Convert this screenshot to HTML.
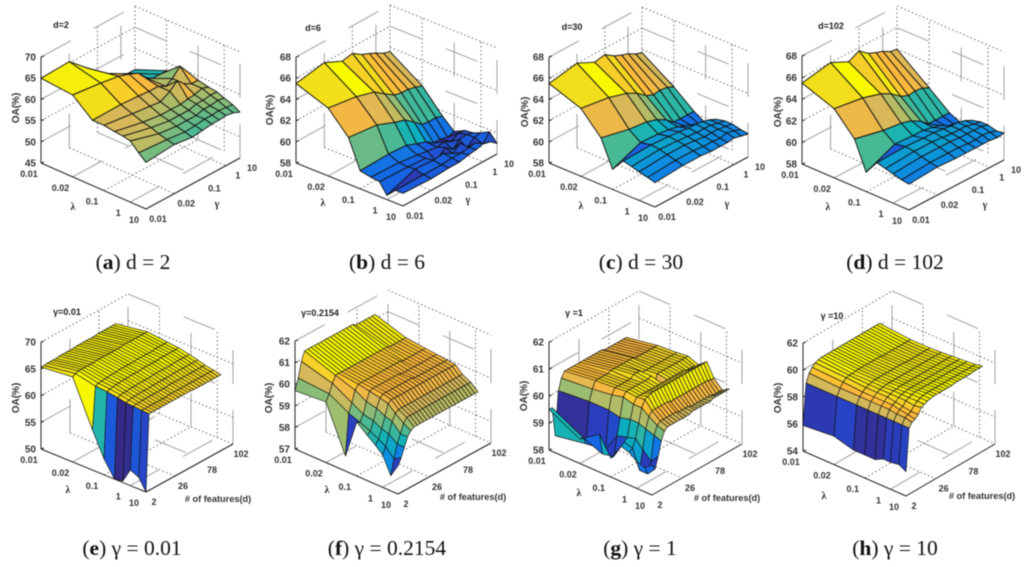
<!DOCTYPE html>
<html lang="en">
<head>
<meta charset="utf-8">
<title>OA surfaces</title>
<style>
html,body{margin:0;padding:0;background:#fff;width:1024px;height:567px;overflow:hidden}
svg{display:block;filter:blur(.45px)}
.t{font-family:"Liberation Sans",sans-serif;font-weight:bold;fill:#333}
.tick{font-size:9px;text-anchor:middle}
.zt{font-size:10px;text-anchor:end}
.oa{font-size:10px;text-anchor:middle}
.ttl{font-size:9px;text-anchor:middle;fill:#222}
.ax{font-size:10px;text-anchor:middle;fill:#222;font-family:"Liberation Serif",serif}
.feat{font-size:9.2px;text-anchor:middle}
.cap{font-family:"Liberation Serif",serif;font-size:21.5px;text-anchor:middle;fill:#111}
.cap tspan.b{font-weight:bold}
</style>
</head>
<body>
<svg id="fig" xmlns="http://www.w3.org/2000/svg" width="1024" height="567" viewBox="0 0 1024 567">
<g id="a"></g>
<g id="b"></g>
<g id="c"></g>
<g id="d"></g>
<g id="e"></g>
<g id="f"></g>
<g id="g"></g>
<g id="h"></g>

<g>
<text class="t ttl" x="61" y="28">d=2</text>
<text class="t ttl" x="313" y="31">d=6</text>
<text class="t ttl" x="572" y="30">d=30</text>
<text class="t ttl" x="831" y="29">d=102</text>
<text class="t ttl" x="67" y="315">γ=0.01</text>
<text class="t ttl" x="320" y="316">γ=0.2154</text>
<text class="t ttl" x="574" y="316">γ =1</text>
<text class="t ttl" x="832" y="319">γ =10</text>
</g>

<g>
<text class="t oa" transform="translate(19,108) rotate(-90)">OA(%)</text>
<text class="t oa" transform="translate(273,110) rotate(-90)">OA(%)</text>
<text class="t oa" transform="translate(528,112) rotate(-90)">OA(%)</text>
<text class="t oa" transform="translate(781,112) rotate(-90)">OA(%)</text>
<text class="t oa" transform="translate(19,398) rotate(-90)">OA(%)</text>
<text class="t oa" transform="translate(272,398) rotate(-90)">OA(%)</text>
<text class="t oa" transform="translate(527,396) rotate(-90)">OA(%)</text>
<text class="t oa" transform="translate(781,398) rotate(-90)">OA(%)</text>
</g>

<g>
<text class="ax" font-weight="bold" x="73" y="210">λ</text>
<text class="ax" font-weight="bold" x="323" y="206">λ</text>
<text class="ax" font-weight="bold" x="581" y="209">λ</text>
<text class="ax" font-weight="bold" x="828" y="210">λ</text>
<text class="ax" font-weight="bold" x="68" y="493">λ</text>
<text class="ax" font-weight="bold" x="327" y="493">λ</text>
<text class="ax" font-weight="bold" x="579" y="496">λ</text>
<text class="ax" font-weight="bold" x="824" y="499">λ</text>
<text class="ax" font-weight="bold" x="217" y="207">γ</text>
<text class="ax" font-weight="bold" x="468" y="203">γ</text>
<text class="ax" font-weight="bold" x="727" y="207">γ</text>
<text class="ax" font-weight="bold" x="985" y="208">γ</text>
<text class="t feat" x="218" y="502"># of features(d)</text>
<text class="t feat" x="473" y="500"># of features(d)</text>
<text class="t feat" x="727" y="501"># of features(d)</text>
<text class="t feat" x="982" y="499"># of features(d)</text>
</g>

<g>
<text class="cap" x="133" y="269">(<tspan class="b">a</tspan>) d = 2</text>
<text class="cap" x="387" y="269">(<tspan class="b">b</tspan>) d = 6</text>
<text class="cap" x="641" y="269">(<tspan class="b">c</tspan>) d = 30</text>
<text class="cap" x="895" y="269">(<tspan class="b">d</tspan>) d = 102</text>
<text class="cap" x="132" y="555">(<tspan class="b">e</tspan>) γ = 0.01</text>
<text class="cap" x="387" y="555">(<tspan class="b">f</tspan>) γ = 0.2154</text>
<text class="cap" x="640" y="555">(<tspan class="b">g</tspan>) γ = 1</text>
<text class="cap" x="895" y="555">(<tspan class="b">h</tspan>) γ = 10</text>
</g>
</svg>

<script>
// categories
const lambdaValues = [0.01,0.02,0.04,0.1,0.2,0.4,1,3,10];
const gammaValues = [0.01,0.02,0.04,0.1,0.2,0.4,1,3,10];
const dValues = [2,6,10,14,18,22,26,30,34,38,42,46,50,54,58,62,66,70,74,78,82,86,90,94,98,102];
// tick labels
const lambdaTicks = [0.01,0.02,0.1,1,10];
const gammaTicks = [0.01,0.02,0.1,1,10];
const dTicks = [2,26,78,102];
const zTicksA = [45,50,55,60,65,70];
const zTicksB = [58,60,62,64,66,68];
const zTicksE = [50,55,60,65,70];
const zTicksF = [57,58,59,60,61,62];
const zTicksG = [58,59,60,61,62];
const zTicksH = [54,56,58,60,62];
// OA values: rows = lambda, columns = gamma (a-d) or d (e-h)
const oaD2 = [
[65,65.3,61.5,59,57.5,56,55,55,55],
[64.3,63.5,62.8,62,61,59,58,58,58],
[60.4,60.5,60.2,60,60,59,60,62,60],
[60.4,59.5,59,58.7,60,61.5,60,59,59],
[60,58.6,58,58,58,58.3,58.5,59,58.5],
[59.8,58.2,57.5,57.5,57.5,58,58,58.3,58.2],
[59.4,57.5,57,57,57,57.5,57.5,57.8,57.5],
[57.5,57,56.5,56.7,57,57,57.2,57,56.8],
[56,56.6,56,56.3,56.6,56.6,56.8,56.5,55.8]];
const oaD6 = [
[65.5,66,65.2,65.4,64.8,64.5,64.2,63.8,63.6],
[64.4,64,63.5,62.8,62.2,62,62,61.8,61.6],
[62.4,62.1,61.4,61.1,60.4,59.8,59.7,59.7,59.5],
[59.7,59.8,59.7,59.3,59,58.5,58.5,58.3,58.5],
[59.5,59.4,59.2,59,58.9,59,58.7,59.1,59],
[59.4,59.3,59.2,58.4,59.2,58.6,59.2,59.3,59.1],
[58.4,59.4,59.3,59.4,58.9,59.5,58.7,59.3,59.4],
[59.2,59.2,59.2,59.3,59.3,59.4,59.5,59,59.8],
[59.2,59.1,59.2,59.2,59.4,59.5,59.7,59.5,59]];
const oaD30 = [
[65.5,66,65.2,65.4,64.8,64.5,64.3,63.9,63.7],
[64.4,64,63.5,63,62.3,62,62.1,62,61.7],
[62.4,61.8,61.6,61.3,60.8,60.2,60.2,60.2,60.2],
[59.9,61,60.9,60.8,60.6,60.3,60,59.8,59.5],
[61.1,61.2,61.1,61,60.9,60.9,60.8,60.6,60.3],
[60.9,61.1,61,60.9,60.8,60.8,60.8,60.6,60.5],
[60.7,60.9,60.9,60.8,60.7,60.7,60.7,60.6,60.5],
[60.5,60.7,60.7,60.6,60.6,60.5,60.7,60.5,60.3],
[60.3,60.5,60.5,60.4,60.4,60.4,60.5,60.3,60.2]];
const oaD102 = [
[65.5,66,65.2,65.7,65,64.7,64.5,64.1,64],
[64.4,64,63.5,63,62.3,62,62.1,62,61.7],
[62.4,61.8,61.6,61.3,60.8,60.2,60.2,60.2,60.2],
[59.8,61,60.9,60.9,60.7,60.5,60.1,59.9,59.7],
[61.1,61.2,61.1,61.1,61,60.9,60.9,60.7,60.4],
[60.9,61.1,61.1,61,60.9,60.9,60.9,60.7,60.6],
[60.7,60.9,60.9,60.9,60.8,60.8,60.8,60.8,60.6],
[60.5,60.7,60.7,60.7,60.6,60.6,60.7,60.6,60.4],
[60.4,60.6,60.5,60.5,60.5,60.5,60.5,60.4,60.5]];
const oaG001 = [
[65.3,65.3,65.4,65.4,65.4,65.4,65.5,65.5,65.5,65.5,65.5,65.5,65.6,65.6,65.6,65.6,65.6,65.6,65.6,65.7,65.7,65.7,65.7,65.7,65.7,65.7],
[65.9,66.2,66.4,66.4,66.4,66.4,66.4,66.4,66.5,66.5,66.5,66.5,66.5,66.5,66.5,66.5,66.5,66.6,66.6,66.6,66.6,66.6,66.6,66.6,66.6,66.6],
[57.5,65.4,65.6,65.7,65.8,65.8,65.9,65.9,65.9,66,66,66,66,66,66,66.1,66.1,66.1,66.1,66.1,66.1,66.2,66.2,66.2,66.2,66.2],
[53,65.2,65.4,65.5,65.6,65.6,65.7,65.7,65.7,65.8,65.8,65.8,65.8,65.9,65.9,65.9,65.9,65.9,65.9,66,66,66,66,66,66,66],
[50,64.9,65.1,65.2,65.2,65.3,65.3,65.3,65.4,65.4,65.4,65.4,65.4,65.5,65.5,65.5,65.5,65.5,65.5,65.5,65.6,65.6,65.6,65.6,65.6,65.6],
[50.3,64.6,64.8,64.9,64.9,65,65,65,65,65,65.1,65.1,65.1,65.1,65.1,65.1,65.1,65.2,65.2,65.2,65.2,65.2,65.2,65.2,65.2,65.2],
[52.9,64.5,64.6,64.6,64.7,64.7,64.7,64.7,64.7,64.7,64.7,64.7,64.7,64.8,64.8,64.8,64.8,64.8,64.8,64.8,64.8,64.8,64.8,64.8,64.8,64.8],
[52.2,64.4,64.4,64.4,64.4,64.4,64.4,64.4,64.4,64.4,64.5,64.5,64.5,64.5,64.5,64.5,64.5,64.5,64.5,64.5,64.5,64.5,64.5,64.5,64.5,64.5],
[50,64.3,64.3,64.3,64.3,64.3,64.3,64.3,64.3,64.3,64.3,64.3,64.3,64.3,64.3,64.3,64.2,64.2,64.2,64.2,64.2,64.2,64.2,64.2,64.2,64.2]];
const oaG02154 = [
[59.7,60.2,60.9,61.3,61.3,61.3,61.3,61.3,61.3,61.3,61.3,61.3,61.3,61.3,61.3,61.3,61.3,61.3,61.3,61.2,61.2,61.2,61.2,61.2,61.2,61.2],
[59.8,60.1,60.5,60.8,60.8,60.8,60.8,60.8,60.8,60.8,60.8,60.8,60.8,60.8,60.8,60.8,60.8,60.8,60.8,60.8,60.75,60.75,60.75,60.75,60.75,60.75],
[57.7,59.6,60,60.5,60.7,60.7,60.7,60.7,60.7,60.7,60.7,60.7,60.7,60.7,60.7,60.7,60.7,60.7,60.65,60.65,60.65,60.65,60.65,60.65,60.65,60.65],
[59.5,59.4,59.7,60.2,60.6,60.65,60.65,60.65,60.65,60.65,60.65,60.65,60.65,60.65,60.6,60.6,60.6,60.6,60.6,60.6,60.6,60.6,60.6,60.6,60.6,60.6],
[59.1,59.2,59.6,60.1,60.5,60.6,60.6,60.6,60.6,60.6,60.6,60.6,60.6,60.6,60.6,60.55,60.55,60.55,60.55,60.55,60.55,60.55,60.55,60.55,60.55,60.55],
[58.8,59,59.4,59.9,60.4,60.5,60.5,60.5,60.5,60.5,60.5,60.5,60.5,60.5,60.5,60.5,60.5,60.5,60.5,60.5,60.5,60.5,60.5,60.5,60.5,60.5],
[58.5,58.8,59.3,59.8,60.1,60.2,60.2,60.2,60.2,60.2,60.2,60.2,60.2,60.2,60.2,60.2,60.2,60.2,60.2,60.2,60.2,60.2,60.2,60.2,60.2,60.2],
[57.7,58.4,59,59.4,59.8,60,60,60,60,60,60,60,60,60,60,60,60,60,60,60,60,60,60,60,60,60],
[58.3,58.6,59,59.4,59.6,59.7,59.7,59.7,59.7,59.7,59.7,59.7,59.7,59.7,59.7,59.7,59.7,59.7,59.7,59.7,59.7,59.7,59.7,59.7,59.7,59.7]];
const oaG1 = [
[59.5,59.5,58.4,60,60.4,60.6,60.6,60.6,60.6,60.6,60.6,60.6,60.6,60.6,60.6,60.6,60.6,60.6,60.55,60.55,60.55,60.55,60.55,60.55,60.55,60.55],
[58.9,58.9,58.6,60.1,60.5,60.75,60.75,60.75,60.75,60.75,60.8,60.8,60.8,60.8,60.8,60.8,60.8,60.8,60.75,60.75,60.75,60.75,60.75,60.75,60.75,60.75],
[59.4,58.6,58.7,60.1,60.6,60.8,60.8,60.8,60.8,60.8,60.8,60.9,60.9,60.9,60.8,60.8,60.8,60.8,60.8,60.8,60.8,60.8,60.8,60.8,60.8,60.8],
[58.7,58.7,59.4,60,60.7,60.85,60.85,60.85,60.85,60.85,60.85,60.85,60.85,60.9,60.4,60.85,60.85,60.85,60.85,60.85,60.85,60.85,60.85,60.85,60.85,60.85],
[59.3,59.4,59.5,60.1,60.6,60.8,60.8,60.8,60.8,60.8,60.8,60.8,60.8,60.8,60.8,60.8,60.8,60.8,60.8,60.8,60.8,60.75,60.75,60.75,60.7,60.7],
[59.2,59.3,59.6,60.1,60.6,60.85,60.9,60.95,60.95,60.95,60.95,60.95,60.95,60.95,60.95,60.95,60.95,60.95,60.95,60.95,60.95,60.95,60.95,60.95,60.95,60.95],
[59,58.6,59.3,60,60.4,60.55,60.55,60.55,60.55,60.55,60.55,60.5,60.5,60.5,60.5,60.5,60.5,60.5,60.5,60.5,60.5,60.5,60.5,60.5,60.45,60.45],
[58.9,58.6,59,59.9,60.2,60.3,60.3,60.3,60.3,60.3,60.3,60.25,60.25,60.25,60.25,60.2,60.2,60.2,60.2,60.2,60.2,60.2,60.15,60.15,60.15,60.15],
[59.1,58.9,59.3,59.8,60.1,60.2,60.2,60.2,60.2,60.2,60.2,60.2,60.2,60.25,60.25,60.25,60.25,60.25,60.25,60.25,60.3,60.3,60.3,60.3,60.3,60.3]];
const oaG10 = [
[55.9,58.9,59.5,59.8,60,60.1,60.15,60.15,60.15,60.15,60.15,60.15,60.15,60.15,60.15,60.15,60.15,60.15,60.15,60.15,60.15,60.15,60.15,60.15,60.15,60.15],
[56.1,58.9,59.4,59.7,59.9,59.95,59.95,60,60,60,60,60,60,60,60,60,59.95,59.95,59.95,59.95,59.95,59.95,59.95,59.95,59.95,59.95],
[55.7,58.9,59.4,59.6,59.8,59.9,59.95,60,60,60,60,60,60,60,60,60,60,59.95,59.95,59.95,59.95,59.95,59.95,59.95,59.95,59.95],
[55.7,58.9,59.4,59.6,59.8,59.9,59.95,60,60,60,60,60,60,60,60,60,60,60,60,60,60,60,60,60,60,60],
[55.7,58.9,59.4,59.6,59.8,59.9,60,60,60.05,60.05,60.05,60.05,60.05,60.05,60.05,60.05,60.05,60.05,60.05,60.05,60.05,60.05,60.05,60.05,60.05,60.05],
[56,58.9,59.4,59.6,59.7,59.9,60,60.05,60.1,60.1,60.1,60.1,60.1,60.1,60.1,60.1,60.1,60.1,60.1,60.1,60.1,60.1,60.1,60.1,60.1,60.1],
[56,58.9,59.3,59.5,59.6,59.9,60,60.1,60.15,60.15,60.15,60.15,60.15,60.15,60.15,60.15,60.15,60.15,60.15,60.15,60.15,60.15,60.15,60.15,60.15,60.15],
[56.1,58.9,59.3,59.4,59.5,59.8,60,60.1,60.15,60.2,60.2,60.2,60.2,60.2,60.2,60.2,60.2,60.2,60.2,60.2,60.2,60.2,60.2,60.2,60.2,60.2],
[55.8,58.9,59.2,59.3,59.5,59.9,60,60.1,60.15,60.2,60.2,60.2,60.2,60.2,60.2,60.2,60.25,60.25,60.25,60.25,60.25,60.25,60.3,60.3,60.3,60.3]];

// Parula-like colormap anchors used by the colour function
const COLOR_STOPS = [[0,'#352a87'],[.12,'#2a3fc0'],[.22,'#1566e6'],[.32,'#0d8fe0'],[.42,'#0bb0bc'],[.52,'#3cb89a'],[.64,'#a4bd6c'],[.74,'#d8b858'],[.84,'#ffb83a'],[.93,'#f2dc1e'],[1,'#f8f800']];
function hex(c){return [parseInt(c.slice(1,3),16),parseInt(c.slice(3,5),16),parseInt(c.slice(5,7),16)];}
function colorAt(t){
  t=Math.max(0,Math.min(1,t));
  for(let k=1;k<COLOR_STOPS.length;k++){
    if(t<=COLOR_STOPS[k][0]){
      const a=COLOR_STOPS[k-1],b=COLOR_STOPS[k],u=(t-a[0])/(b[0]-a[0]),x=hex(a[1]),y=hex(b[1]);
      return 'rgb('+[0,1,2].map(i=>Math.round(x[i]+(y[i]-x[i])*u)).join(',')+')';
    }
  }
  return COLOR_STOPS[COLOR_STOPS.length-1][1];
}
// Nonuniform log-like axis used for lambda and gamma
function logAxis(v){
  const L=Math.log10(v),xs=[-2,-1.7,-1.4,-1,-0.7,-0.4,0,0.477,1],fs=[0,.3,.49,.6,.7,.78,.85,.93,1];
  for(let k=1;k<xs.length;k++){ if(L<=xs[k]+1e-9){return fs[k-1]+(fs[k]-fs[k-1])*(L-xs[k-1])/(xs[k]-xs[k-1]);} }
  return 1;
}
function dAxis(v){return (v-2)/100*.86;}
function dTickAxis(v){return dTicks.indexOf(v)/(dTicks.length-1);}

const NS='http://www.w3.org/2000/svg';
function mk(parent,tag,attrs){
  const el=document.createElementNS(NS,tag);
  for(const k in attrs){el.setAttribute(k,attrs[k]);}
  parent.appendChild(el);
  return el;
}

function drawPanel(cfg){
  const root=document.getElementById(cfg.id);
  const L=cfg.L,B=cfg.B,R=cfg.R,zTicks=cfg.zTicks;
  const zMin=zTicks[0],zMax=zTicks[zTicks.length-1];
  const k=(L[1]-cfg.top)/(zMax-zMin);
  const proj=(a,f,z)=>[L[0]+a*(B[0]-L[0])+f*(R[0]-B[0]),L[1]+a*(B[1]-L[1])+f*(R[1]-B[1])-(z-zMin)*k];
  const seg=(p,q,solid,name)=>{
    const ln=mk(root,'line',{x1:p[0],y1:p[1],x2:q[0],y2:q[1],stroke:solid?'#a8a8a8':'#666','stroke-width':solid?1.1:.9,'stroke-dasharray':solid?'34 26':'1.6 2.4',fill:'none'});
    
    
  };
  const aTicks=lambdaTicks.slice(1).map(logAxis);
  const fTicks=cfg.series==='d'?dTicks.slice(1).map(dTickAxis):gammaTicks.slice(1).map(logAxis);
  // back walls and floor grid, one line per tick
  fTicks.forEach((f,n)=>{
    seg(proj(0,f,zMin),proj(0,f,zMax),n%2===0,'wall-grid-line');
    seg(proj(0,f,zMin),proj(1,f,zMin),n%2===1,'floor-grid-line');
  });
  aTicks.forEach((a,n)=>{
    seg(proj(a,1,zMin),proj(a,1,zMax),n%2===1,'wall-grid-line');
    seg(proj(a,0,zMin),proj(a,1,zMin),n%2===0,'floor-grid-line');
  });
  zTicks.slice(1).forEach((z,n)=>{
    seg(proj(0,0,z),proj(0,1,z),n%2===0,'wall-grid-line');
    seg(proj(0,1,z),proj(1,1,z),n%2===1,'wall-grid-line');
  });
  // axes
  const axis=(p,q,name)=>{
    const ln=mk(root,'line',{x1:p[0],y1:p[1],x2:q[0],y2:q[1],stroke:'#222','stroke-width':1});
    
    
  };
  axis(proj(0,0,zMin),proj(0,0,zMax),'z-axis');
  axis(proj(0,0,zMin),proj(1,0,zMin),'lambda-axis');
  axis(proj(1,0,zMin),proj(1,1,zMin),cfg.series==='d'?'feature-axis':'gamma-axis');
  zTicks.forEach(z=>{
    const p=proj(0,0,z);
    axis(p,[p[0]+3,p[1]-1],'z-tick');
    const t=mk(root,'text',{x:p[0]-5,y:p[1]+3.5,class:'t zt'});
    t.textContent=z;
    
    
  });
  lambdaTicks.forEach(v=>{
    const p=proj(logAxis(v),0,zMin);
    const t=mk(root,'text',{x:p[0]-12,y:p[1]+14,class:'t tick'});
    t.textContent=v;
    
    
  });
  (cfg.series==='d'?dTicks:gammaTicks).forEach(v=>{
    const f=cfg.series==='d'?dTickAxis(v):logAxis(v);
    const p=proj(1,f,zMin);
    const t=mk(root,'text',{x:p[0]+(cfg.series==='d'?8:12),y:p[1]+13,class:'t tick'});
    t.textContent=v;
    
    
  });
  // surface, painted far to near
  const cols=cfg.series==='d'?dValues.map(dAxis):gammaValues.map(logAxis);
  const rows=lambdaValues.map(logAxis);
  const Z=cfg.z;
  for(let i=0;i<rows.length-1;i++){
    for(let j=cols.length-2;j>=0;j--){
      const pts=[proj(rows[i],cols[j],Z[i][j]),proj(rows[i],cols[j+1],Z[i][j+1]),proj(rows[i+1],cols[j+1],Z[i+1][j+1]),proj(rows[i+1],cols[j],Z[i+1][j])];
      const poly=mk(root,'polygon',{points:pts.map(p=>p[0].toFixed(1)+','+p[1].toFixed(1)).join(' '),fill:colorAt((Z[i][j]-cfg.clim[0])/(cfg.clim[1]-cfg.clim[0])),stroke:'#141414','stroke-width':cfg.series==='d'?.65:.95,'stroke-linejoin':'round'});
      
      
    }
  }
}

drawPanel({id:'a',L:[41,163],B:[146,209],R:[240,158],top:57,zTicks:zTicksA,z:oaD2,series:'g',clim:[46,65.5]});
drawPanel({id:'b',L:[296,163],B:[403,206],R:[497,154],top:57,zTicks:zTicksB,z:oaD6,series:'g',clim:[57.6,66]});
drawPanel({id:'c',L:[549,163],B:[655,207],R:[748,157],top:57,zTicks:zTicksB,z:oaD30,series:'g',clim:[58.3,66]});
drawPanel({id:'d',L:[802,164],B:[909,210],R:[1004,160],top:56,zTicks:zTicksB,z:oaD102,series:'g',clim:[58.3,66]});
drawPanel({id:'e',L:[41,449],B:[146,492],R:[233,444],top:342,zTicks:zTicksE,z:oaG001,series:'d',clim:[50,66]});
drawPanel({id:'f',L:[295,449],B:[398,494],R:[491,443],top:341,zTicks:zTicksF,z:oaG02154,series:'d',clim:[57.2,61.3]});
drawPanel({id:'g',L:[549,450],B:[652,495],R:[742,444],top:342,zTicks:zTicksG,z:oaG1,series:'d',clim:[58.3,61]});
drawPanel({id:'h',L:[803,451],B:[906,496],R:[995,444],top:343,zTicks:zTicksH,z:oaG10,series:'d',clim:[55.5,60.15]});
</script>
</body>
</html>
